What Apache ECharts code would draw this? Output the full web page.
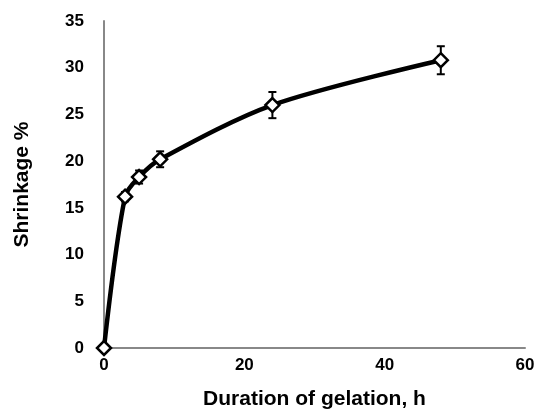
<!DOCTYPE html>
<html><head><meta charset="utf-8">
<script src="https://cdn.jsdelivr.net/npm/echarts@6/dist/echarts.min.js"></script>
<style>html,body{margin:0;padding:0;background:#fff}#c{width:538px;height:415px}</style>
</head><body><div id="c"></div>
<script>
var hours = [0, 3, 5, 8, 24, 48];
var shrinkage = [0, 16.2, 18.3, 20.2, 26.0, 30.8];
var errors = [0, 0.5, 0.7, 0.85, 1.4, 1.5];
var xTicks = [0, 20, 40, 60];
var yTicks = [0, 5, 10, 15, 20, 25, 30, 35];

var lineData = hours.map(function(h, i){ return [h, shrinkage[i]]; });
var errData = hours.map(function(h, i){ return [h, shrinkage[i] - errors[i], shrinkage[i] + errors[i]]; });

var font = {fontFamily: 'Liberation Sans', fontWeight: 'bold', fontSize: 17, color: '#000'};
var chart = echarts.init(document.getElementById('c'));
chart.setOption({
  animation: false,
  grid: {left: 104, right: 13, top: 21, bottom: 63},
  xAxis: {
    type: 'value', min: xTicks[0], max: xTicks[xTicks.length-1], interval: 20,
    axisLine: {show: true, onZero: false, lineStyle: {color: '#888', width: 2}},
    axisTick: {show: false}, splitLine: {show: false},
    axisLabel: Object.assign({margin: 9}, font),
    name: 'Duration of gelation, h', nameLocation: 'middle', nameGap: 41,
    nameTextStyle: Object.assign({}, font, {fontSize: 21})
  },
  yAxis: {
    type: 'value', min: yTicks[0], max: yTicks[yTicks.length-1], interval: 5,
    axisLine: {show: true, lineStyle: {color: '#888', width: 2}},
    axisTick: {show: false}, splitLine: {show: false},
    axisLabel: Object.assign({margin: 20}, font),
    name: 'Shrinkage %', nameLocation: 'middle', nameGap: 71, nameRotate: 90,
    nameTextStyle: Object.assign({}, font, {fontSize: 21})
  },
  series: [
    {
      type: 'custom', z: 3,
      data: errData,
      renderItem: function(params, api){
        var x = api.value(0);
        var lo = api.coord([x, api.value(1)]);
        var hi = api.coord([x, api.value(2)]);
        var w = 4;
        var st = {stroke: '#000', lineWidth: 2};
        return {type: 'group', children: [
          {type: 'line', shape: {x1: lo[0], y1: lo[1], x2: hi[0], y2: hi[1]}, style: st},
          {type: 'line', shape: {x1: lo[0]-w, y1: lo[1], x2: lo[0]+w, y2: lo[1]}, style: st},
          {type: 'line', shape: {x1: hi[0]-w, y1: hi[1], x2: hi[0]+w, y2: hi[1]}, style: st}
        ]};
      }
    },
    {
      type: 'line', z: 4,
      data: lineData,
      smooth: 0.3,
      lineStyle: {color: '#000', width: 4.5},
      symbol: 'diamond', symbolSize: 14,
      itemStyle: {color: '#fff', borderColor: '#000', borderWidth: 2.5}
    }
  ]
});
</script></body></html>
